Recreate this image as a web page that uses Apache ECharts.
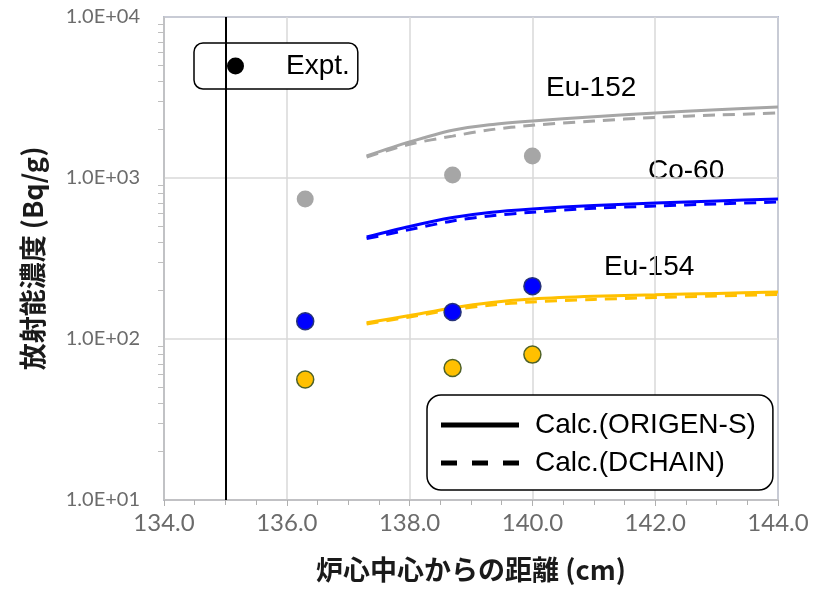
<!DOCTYPE html>
<html>
<head>
<meta charset="utf-8">
<script src="https://cdn.jsdelivr.net/npm/echarts@6/dist/echarts.min.js"></script>
<style>
  html, body { margin: 0; padding: 0; background: #fff; }
  #chart { width: 815px; height: 592px; }
</style>
</head>
<body>
<div id="chart"></div>
<script>
// data
var calcX = [137.3, 138.0, 138.7, 139.3, 140.0, 141.0, 142.0, 143.0, 144.0];
var exptX = [136.3, 138.7, 140.0];

var eu152Origen = [1370, 1675, 1980, 2140, 2260, 2400, 2535, 2650, 2760];
var eu152Dchain = [1350, 1620, 1820, 1990, 2125, 2260, 2380, 2460, 2535];
var co60Origen = [430, 500, 568, 611, 642, 675, 699, 720, 741];
var co60Dchain = [420, 478, 541, 581, 613, 648, 670, 690, 710];
var eu154Origen = [126, 140, 156, 168, 177, 184, 188, 192, 196];
var eu154Dchain = [124, 137, 152, 162, 170, 176, 181, 185, 189];

var eu152Expt = [740, 1044, 1370];
var co60Expt = [129, 147, 213];
var eu154Expt = [56, 66, 80];

var refLineX = 135;

function pairs(xs, ys) {
  var out = [];
  for (var i = 0; i < xs.length; i++) out.push([xs[i], ys[i]]);
  return out;
}

var GRAY = '#a6a6a6', BLUE = '#0000ff', YELLOW = '#ffc000';

function calcLine(ys, color, dashed) {
  return {
    type: 'line',
    data: pairs(calcX, ys),
    smooth: 0.3,
    showSymbol: false,
    silent: true,
    lineStyle: { color: color, width: 3, type: dashed ? [12, 8] : 'solid' },
    z: dashed ? 3 : 2
  };
}

function exptPoints(ys, color, border) {
  return {
    type: 'scatter',
    data: pairs(exptX, ys),
    symbolSize: 17,
    itemStyle: { color: color, opacity: 1, borderColor: border || color, borderWidth: border ? 1.5 : 0 },
    z: 5
  };
}

var chart = echarts.init(document.getElementById('chart'));

var option = {
  animation: false,
  grid: {
    left: 164, right: 37, top: 17, bottom: 92,
    show: true, borderColor: '#7585bb', borderWidth: 1.5
  },
  xAxis: {
    type: 'value',
    min: 134, max: 144, interval: 2,
    name: '炉心中心からの距離 (cm)',
    nameLocation: 'middle',
    nameGap: 56,
    nameTextStyle: { fontFamily: 'Noto Sans CJK JP', fontWeight: 'bold', fontSize: 27, color: '#1a1a1a' },
    axisLine: { lineStyle: { color: '#bfbfbf', width: 1.5 } },
    axisTick: { show: true, length: 6, lineStyle: { color: '#b0b0b0' } },
    minorTick: { show: true, splitNumber: 4, length: 5, lineStyle: { color: '#b0b0b0' } },
    splitLine: { show: true, lineStyle: { color: '#d9d9d9', width: 1.5 } },
    axisLabel: {
      fontFamily: 'Lato', fontSize: 24, color: '#6b6b6b', margin: 11,
      formatter: function (v) { return v.toFixed(1); }
    }
  },
  yAxis: {
    type: 'log',
    logBase: 10,
    min: 10, max: 10000,
    name: '放射能濃度 (Bq/g)',
    nameLocation: 'middle',
    nameGap: 118,
    nameTextStyle: { fontFamily: 'Noto Sans CJK JP', fontWeight: 'bold', fontSize: 27, color: '#1a1a1a' },
    axisLine: { show: true, lineStyle: { color: '#bfbfbf', width: 1.5 } },
    axisTick: { show: false },
    minorTick: { show: true, splitNumber: 9, length: 6, lineStyle: { color: '#bfbfbf' } },
    splitLine: { show: true, lineStyle: { color: '#d9d9d9', width: 1.5 } },
    axisLabel: {
      fontFamily: 'Lato', fontSize: 20, color: '#6b6b6b', margin: 24,
      formatter: function (v) {
        var e = Math.round(Math.log10(v));
        return '1.0E+' + (e < 10 ? '0' : '') + e;
      }
    }
  },
  legend: [
    {
      left: 194, top: 43,
      padding: [9, 8, 9, 33],
      borderColor: '#000', borderWidth: 1.5, borderRadius: 9,
      backgroundColor: '#fff',
      itemWidth: 17, itemHeight: 17,
      textStyle: { fontFamily: 'Liberation Sans', fontSize: 28, color: '#000', padding: [0, 0, 0, 37] },
      data: [{ name: 'Expt.', icon: 'circle' }]
    },
    {
      left: 427, top: 395,
      orient: 'vertical',
      padding: [16, 17, 13, 14],
      itemGap: 10,
      borderColor: '#000', borderWidth: 1.5, borderRadius: 14,
      backgroundColor: '#fff',
      itemWidth: 78, itemHeight: 5,
      textStyle: { fontFamily: 'Liberation Sans', fontSize: 28, color: '#000', padding: [0, 0, 0, 11] },
      data: [
        { name: 'Calc.(ORIGEN-S)', icon: 'path://M0,0h78v5h-78z' },
        { name: 'Calc.(DCHAIN)', icon: 'path://M0,0h16v5h-16z M31,0h16v5h-16z M62,0h16v5h-16z' }
      ]
    }
  ],
  graphic: [
    { type: 'text', left: 546, top: 74, style: { text: 'Eu-152', font: '28px "Liberation Sans"', fill: '#000' } },
    { type: 'text', left: 648, top: 157, style: { text: 'Co-60', font: '28px "Liberation Sans"', fill: '#000' } },
    { type: 'text', left: 604, top: 253, style: { text: 'Eu-154', font: '28px "Liberation Sans"', fill: '#000' } }
  ],
  series: [
    {
      name: 'Expt.', type: 'scatter', data: [], itemStyle: { color: '#000', opacity: 1 },
      markLine: {
        silent: true, symbol: 'none', label: { show: false },
        lineStyle: { color: '#000', width: 2, type: 'solid' },
        data: [{ xAxis: refLineX }]
      }
    },
    { name: 'Calc.(ORIGEN-S)', type: 'line', data: [], itemStyle: { color: '#000' } },
    { name: 'Calc.(DCHAIN)', type: 'line', data: [], itemStyle: { color: '#000' } },
    calcLine(eu152Origen, GRAY, false),
    calcLine(eu152Dchain, GRAY, true),
    calcLine(co60Origen, BLUE, false),
    calcLine(co60Dchain, BLUE, true),
    calcLine(eu154Origen, YELLOW, false),
    calcLine(eu154Dchain, YELLOW, true),
    exptPoints(eu152Expt, GRAY),
    exptPoints(co60Expt, BLUE, '#26337a'),
    exptPoints(eu154Expt, YELLOW, '#4f6228')
  ]
};

chart.setOption(option);
</script>
</body>
</html>
